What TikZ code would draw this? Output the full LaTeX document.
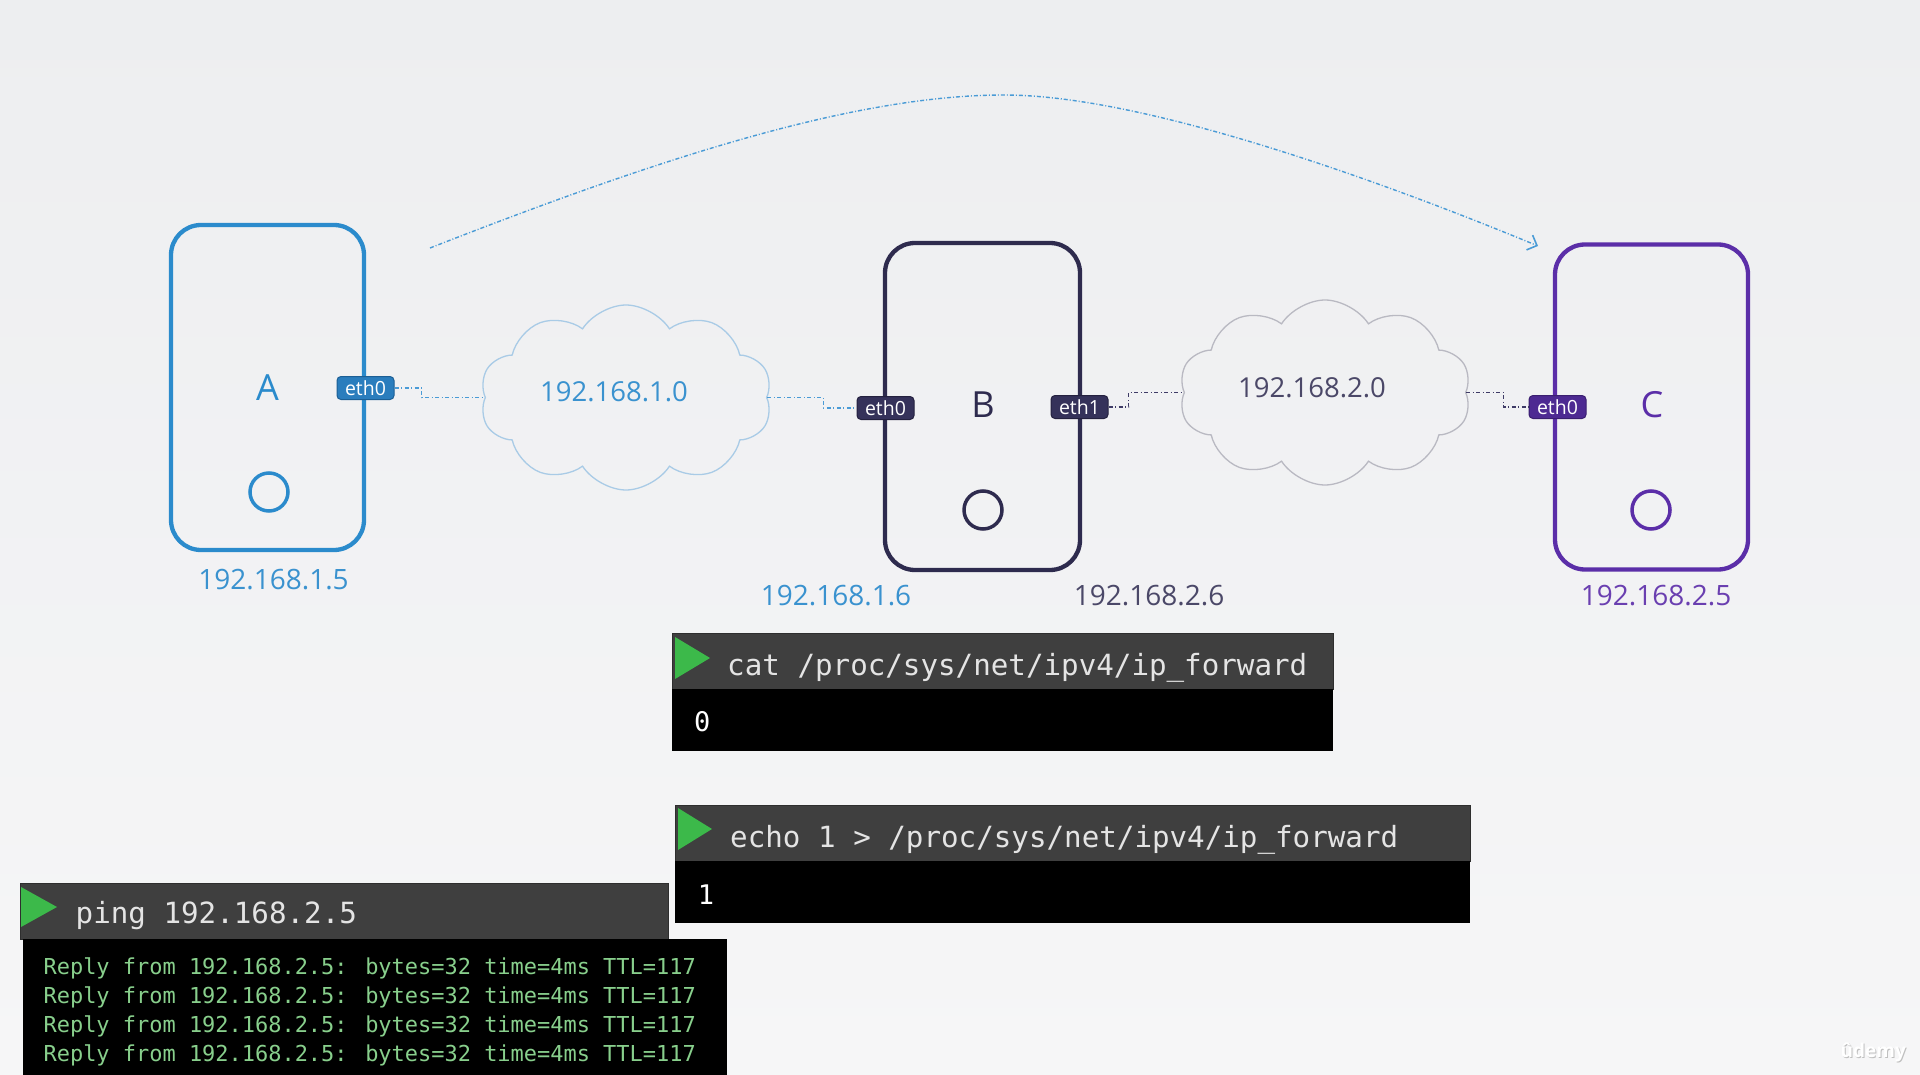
\documentclass[tikz,border=0pt]{standalone}
\usepackage{fontspec}
\setmainfont{Open Sans}
\newfontfamily\monofont{DejaVu Sans Mono}
\usetikzlibrary{shapes.symbols,arrows.meta}
\definecolor{bgtop}{HTML}{EDEEF0}
\definecolor{bgbot}{HTML}{F6F6F7}
\definecolor{ablue}{HTML}{2B8BCC}
\definecolor{tagafill}{HTML}{2A7DBD}
\definecolor{tagaline}{HTML}{1C5F95}
\definecolor{bnavy}{HTML}{2E2B4E}
\definecolor{tagbfill}{HTML}{35325A}
\definecolor{tagbline}{HTML}{24213F}
\definecolor{cpurple}{HTML}{5B2EA8}
\definecolor{tagcfill}{HTML}{4D2A92}
\definecolor{tagcline}{HTML}{3A1F70}
\definecolor{cloudone}{HTML}{A9CBE6}
\definecolor{cloudtwo}{HTML}{B9B9C2}
\definecolor{textone}{HTML}{3A92CF}
\definecolor{texttwo}{HTML}{4B4868}
\definecolor{ctext}{HTML}{6A3FB0}
\definecolor{playgreen}{HTML}{3CB94A}
\definecolor{hdrgray}{HTML}{3F3F3F}
\definecolor{hdrline}{HTML}{2E2E2E}
\definecolor{cmdtext}{HTML}{E4E4E4}
\definecolor{replygreen}{HTML}{88CF8C}
\definecolor{arccol}{HTML}{4A9BD6}
\definecolor{linkone}{HTML}{4A9BD6}
\definecolor{linktwo}{HTML}{3E3B66}
\begin{document}
\begin{tikzpicture}[x=1pt,y=-1pt,
  host/.style={draw, line width=4.3pt, rounded corners=30pt, minimum width=193pt, minimum height=325pt, inner sep=0},
  hostlabel/.style={font=\fontsize{36}{36}\selectfont, inner sep=0},
  port/.style={draw, circle, minimum size=38pt, line width=3.5pt, inner sep=0},
  tag/.style={rounded corners=4pt, minimum width=57pt, minimum height=23pt, inner sep=0, text=white, font=\fontsize{19.5}{19.5}\selectfont, line width=1pt},
  net/.style={cloud, cloud puffs=10, cloud puff arc=115, aspect=1.58, minimum width=292pt, minimum height=185pt, draw, line width=1.3pt, inner sep=0},
  link/.style={line width=1.3pt, dash pattern=on 4pt off 2.5pt on 1pt off 2.5pt},
  ip/.style={font=\fontsize{28}{28}\selectfont, inner sep=0},
  netlab/.style={font=\fontsize{27.5}{27.5}\selectfont, inner sep=0},
  hdr/.style={fill=hdrgray, draw=hdrline, line width=1pt, inner sep=0, anchor=north west},
  termbody/.style={fill=black, inner sep=0, anchor=north west},
  cmd/.style={font=\monofont\fontsize{29.2}{30}\selectfont, text=cmdtext, anchor=base west, inner sep=0},
  outp/.style={font=\monofont\fontsize{27}{27}\selectfont, text=white, anchor=base west, inner sep=0},
  reply/.style={font=\monofont\fontsize{21.96}{22}\selectfont, text=replygreen, anchor=base west, inner sep=0}
]
\useasboundingbox (0,0) rectangle (1920,1075);
\fill[top color=bgtop, bottom color=bgbot] (0,0) rectangle (1920,1075);

% arc from A towards C
\coordinate (arcstart) at (430,248);
\coordinate (arcpeak) at (1004,95);
\coordinate (arcend) at (1538,246);
\draw[arccol, line width=1.4pt, dash pattern=on 4pt off 2pt on 1pt off 2pt, -{Straight Barb[length=8pt,width=16pt,line width=1.6pt]}]
  (arcstart) .. controls (650,162) and (850,95) .. (arcpeak)
  .. controls (1150,95) and (1398,188) .. (arcend);

% hosts
\node[host, draw=ablue] (hostA) at (267.5,387.5) {};
\node[host, draw=bnavy, minimum width=195pt, minimum height=327pt] (hostB) at (982.5,406.5) {};
\node[host, draw=cpurple] (hostC) at (1651.5,407) {};

\node[hostlabel, text=ablue] (labA) at (267.5,388) {A};
\node[hostlabel, text=bnavy] (labB) at (983,405) {B};
\node[hostlabel, text=cpurple] (labC) at (1652,405) {C};

\node[port, draw=ablue] (portA) at (269,492) {};
\node[port, draw=bnavy] (portB) at (983,510) {};
\node[port, draw=cpurple] (portC) at (1651,510) {};

% clouds
\node[net, draw=cloudone] (netone) at (626,397.5) {};
\node[net, draw=cloudtwo] (nettwo) at (1325,392.5) {};
\node[netlab, text=textone] (netonelab) at (614,392) {192.168.1.0};
\node[netlab, text=texttwo] (nettwolab) at (1312,388) {192.168.2.0};

% interface tags
\node[tag, fill=tagafill, draw=tagaline] (ethA) at (365.5,388) {eth0};
\node[tag, fill=tagbfill, draw=tagbline] (ethBz) at (885.5,408) {eth0};
\node[tag, fill=tagbfill, draw=tagbline] (ethBo) at (1079.5,407) {eth1};
\node[tag, fill=tagcfill, draw=tagcline] (ethC) at (1557.5,407) {eth0};

% links
\draw[link, linkone] (ethA.east) -- ++(27,0) |- (netone.west);
\draw[link, linkone] (netone.east) -- ++(56,0) |- (ethBz.west);
\draw[link, linktwo] (ethBo.east) -- ++(20,0) |- (nettwo.west);
\draw[link, linktwo] (nettwo.east) -- ++(37,0) |- (ethC.west);

% ip labels
\node[ip, text=textone] (ipA) at (273.5,580) {192.168.1.5};
\node[ip, text=textone] (ipBz) at (836,596) {192.168.1.6};
\node[ip, text=texttwo] (ipBo) at (1149,596) {192.168.2.6};
\node[ip, text=ctext] (ipC) at (1656,596) {192.168.2.5};

% terminal: cat
\node[hdr, minimum width=661.5pt, minimum height=56pt] (cathdr) at (671.5,633) {};
\node[termbody, minimum width=661.5pt, minimum height=62pt] (catbody) at (671.5,689) {};
\fill[playgreen] (675,637) -- (675,679) -- (710,658) -- cycle;
\node[cmd] (catcmd) at (727,675) {cat /proc/sys/net/ipv4/ip\_forward};
\node[outp] (catout) at (694,731) {0};

% terminal: echo
\node[hdr, minimum width=795pt, minimum height=56pt] (echohdr) at (674.6,805) {};
\node[termbody, minimum width=795pt, minimum height=62pt] (echobody) at (674.6,861) {};
\fill[playgreen] (678,808) -- (678,850) -- (712,829) -- cycle;
\node[cmd] (echocmd) at (730,847) {echo 1 > /proc/sys/net/ipv4/ip\_forward};
\node[outp] (echoout) at (697.6,904) {1};

% terminal: ping
\node[hdr, minimum width=648pt, minimum height=56pt] (pinghdr) at (20,883) {};
\node[termbody, minimum width=704.4pt, minimum height=136pt] (pingbody) at (22.6,939) {};
\fill[playgreen] (21,887) -- (21,927) -- (57,907) -- cycle;
\node[cmd] (pingcmd) at (75.5,923) {ping 192.168.2.5};
\node[reply] (r1) at (43.4,974) {Reply from 192.168.2.5: bytes=32 time=4ms TTL=117};
\node[reply] (r2) at (43.4,1003) {Reply from 192.168.2.5: bytes=32 time=4ms TTL=117};
\node[reply] (r3) at (43.4,1032) {Reply from 192.168.2.5: bytes=32 time=4ms TTL=117};
\node[reply] (r4) at (43.4,1061) {Reply from 192.168.2.5: bytes=32 time=4ms TTL=117};

% watermark
\node[font=\bfseries\fontsize{19}{19}\selectfont, text=black!25, anchor=base east, inner sep=0] (wmshadow) at (1907,1058) {ûdemy};
\node[font=\bfseries\fontsize{19}{19}\selectfont, text=white, anchor=base east, inner sep=0] (wm) at (1906,1057) {ûdemy};
\end{tikzpicture}
\end{document}
